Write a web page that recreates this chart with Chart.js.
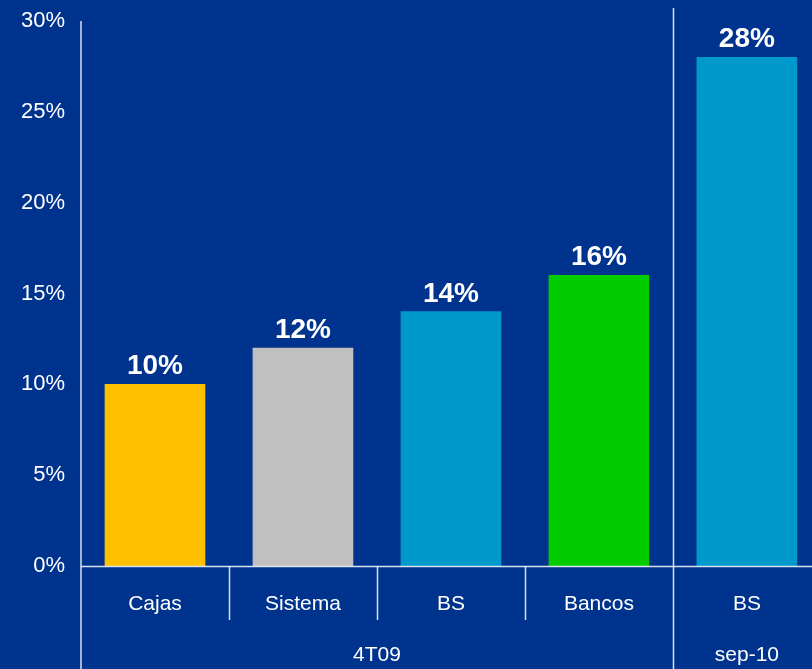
<!DOCTYPE html>
<html>
<head>
<meta charset="utf-8">
<script src="https://cdn.jsdelivr.net/npm/chart.js@4"></script>
<style>
    html, body { margin: 0; padding: 0; background: #00338D; }
    #wrap { width: 812px; height: 669px; }
</style>
</head>
<body>
<div id="wrap"><canvas id="chart"></canvas></div>
<script>
var categories = ["Cajas", "Sistema", "BS", "Bancos", "BS"];
var values = [10, 12, 14, 16, 28];
var barColors = ["#FFC000", "#C0C0C0", "#0099CC", "#00CC00", "#0099CC"];
var groups = [
    { label: "4T09", from: 0, to: 3 },
    { label: "sep-10", from: 4, to: 4 }
];
var yTicks = [0, 5, 10, 15, 20, 25, 30];

var fontFamily = "'Liberation Sans', Arial, sans-serif";

var points = [];
for (var i = 0; i < values.length; i++) {
    points.push({ x: i, y: values[i] });
}

// labels on top of bars, category / group labels and the separator lines
var extrasPlugin = {
    id: "extras",
    afterDatasetsDraw: function (chart) {
        var ctx = chart.ctx;
        var xs = chart.scales.x;
        var area = chart.chartArea;
        var meta = chart.getDatasetMeta(0);

        ctx.save();
        ctx.fillStyle = "#ffffff";
        ctx.textAlign = "center";

        ctx.font = "bold 28px " + fontFamily;
        ctx.textBaseline = "alphabetic";
        meta.data.forEach(function (bar, i) {
            ctx.fillText(values[i] + "%", bar.x, bar.y - 10);
        });

        // baseline and axis line
        ctx.strokeStyle = "rgba(255,255,255,0.85)";
        ctx.lineWidth = 1.5;
        ctx.beginPath();
        ctx.moveTo(area.left, area.bottom + 0.5);
        ctx.lineTo(chart.width, area.bottom + 0.5);
        ctx.moveTo(area.left, area.top);
        ctx.lineTo(area.left, chart.height);
        ctx.stroke();

        // separators between categories
        for (var k = 0; k < categories.length - 1; k++) {
            var sx = Math.round(xs.getPixelForValue(k + 0.5)) + 0.5;
            ctx.beginPath();
            if (k === 3) {
                ctx.moveTo(sx, 8);
                ctx.lineTo(sx, chart.height);
            } else {
                ctx.moveTo(sx, area.bottom);
                ctx.lineTo(sx, area.bottom + 54);
            }
            ctx.stroke();
        }

        ctx.font = "21px " + fontFamily;
        ctx.textBaseline = "middle";
        categories.forEach(function (c, i) {
            ctx.fillText(c, xs.getPixelForValue(i), area.bottom + 38);
        });
        groups.forEach(function (g) {
            var cx = (xs.getPixelForValue(g.from - 0.5) + xs.getPixelForValue(g.to + 0.5)) / 2;
            ctx.fillText(g.label, cx, area.bottom + 89);
        });
        ctx.restore();
    }
};

var chart = new Chart("chart", {
    type: "bar",
    data: {
        datasets: [{
            data: points,
            backgroundColor: barColors,
            barThickness: 100
        }]
    },
    options: {
        responsive: true,
        maintainAspectRatio: false,
        animation: false,
        layout: { padding: { top: 21, bottom: 0, left: 0, right: 0 } },
        plugins: {
            legend: { display: false },
            tooltip: { enabled: false }
        },
        scales: {
            x: {
                type: "linear",
                offset: false,
                min: -0.5,
                max: 4.44,
                grid: { display: false },
                border: { display: false },
                ticks: { display: false },
                afterFit: function (scale) {
                    scale.height = 103;
                    scale.paddingLeft = 0;
                    scale.paddingRight = 0;
                }
            },
            y: {
                min: 0,
                max: 30,
                afterBuildTicks: function (scale) {
                    scale.ticks = yTicks.map(function (v) { return { value: v }; });
                },
                grid: { display: false, drawTicks: false },
                border: { display: false },
                ticks: {
                    color: "#ffffff",
                    padding: 16,
                    font: { size: 22, family: fontFamily },
                    callback: function (v) { return v + "%"; }
                },
                afterFit: function (scale) {
                    scale.width = 81;
                    scale.paddingTop = 0;
                    scale.paddingBottom = 0;
                }
            }
        }
    },
    plugins: [extrasPlugin]
});
</script>
</body>
</html>
